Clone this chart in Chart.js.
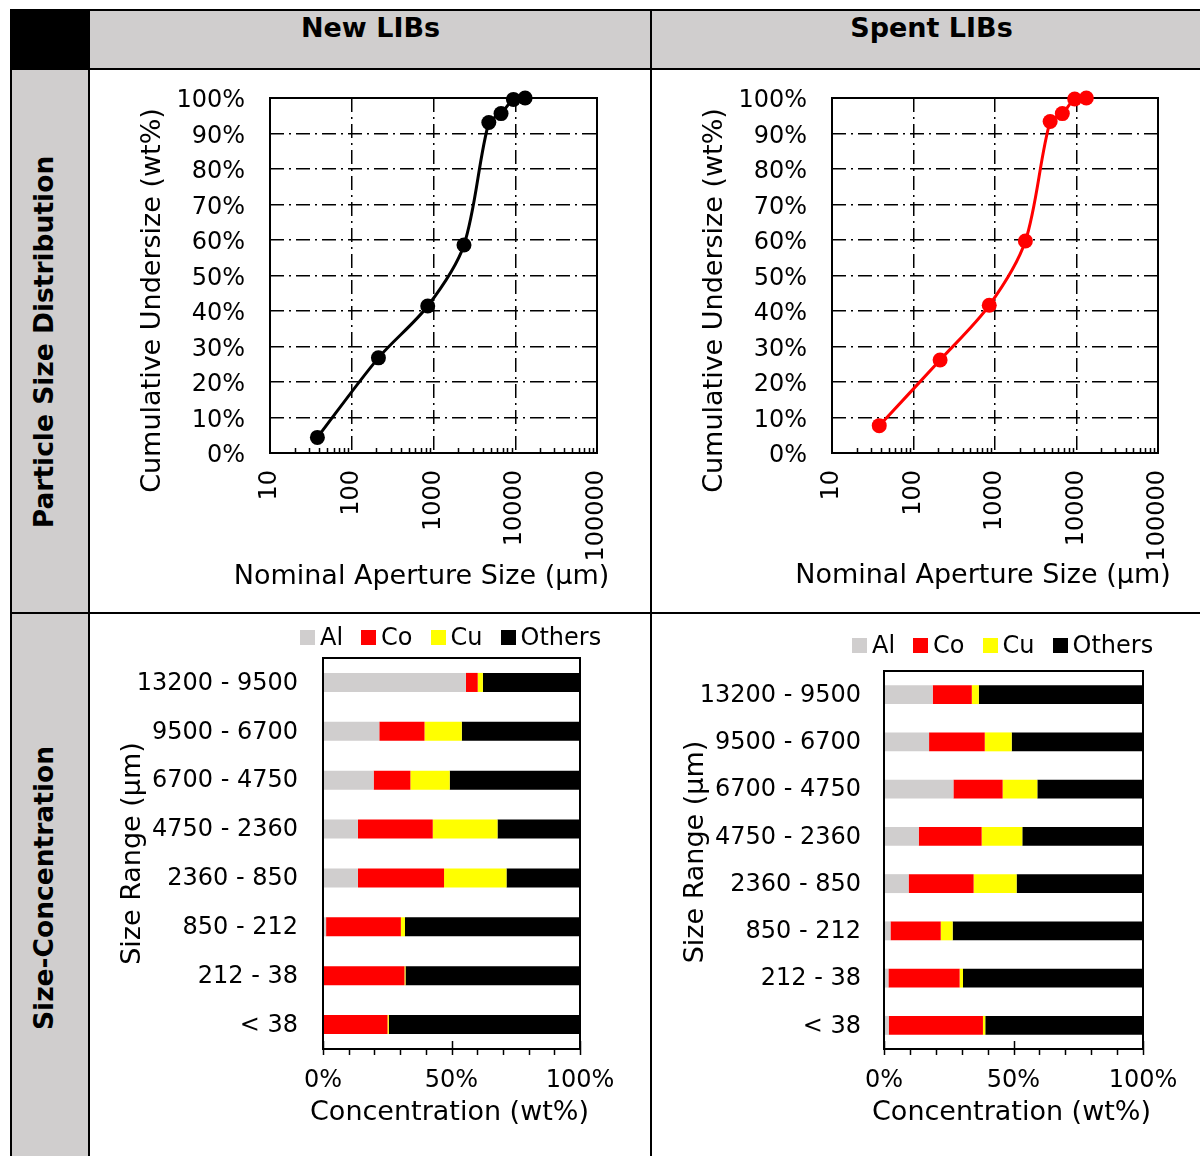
<!DOCTYPE html>
<html>
<head>
<meta charset="utf-8">
<title>Particle size distribution and size-concentration of new and spent LIBs</title>
<script src="https://cdn.jsdelivr.net/npm/chart.js@4.4.1/dist/chart.umd.min.js"></script>
<style>
  html, body { margin: 0; padding: 0; background: #fff; }
  #page { position: relative; width: 1200px; height: 1156px; overflow: hidden;
          font-family: 'DejaVu Sans', Verdana, sans-serif; color: #000; }
  .abs { position: absolute; }
  .gray { background: #d0cece; }
  .ink { background: #000; }
  .head { position: absolute; top: 10px; height: 36px; line-height: 36px;
          font-weight: bold; font-size: 27px; text-align: center; white-space: nowrap; }
  .side { position: absolute; font-weight: bold; font-size: 26.5px; white-space: nowrap;
          transform: translate(-50%, -50%) rotate(-90deg); }
  canvas { position: absolute; }
  .legend { position: absolute; display: flex; align-items: center; font-size: 24px; line-height: 28px; white-space: nowrap; }
  .legend .item { display: flex; align-items: center; margin-right: 18px; }
  .legend .box { display: inline-block; width: 15px; height: 15px; margin-right: 5px; }
</style>
</head>
<body>
<div id="page">
  <!-- table cells -->
  <div class="abs ink"  style="left:10px;top:10px;width:80px;height:60px"></div>
  <div class="abs gray" style="left:90px;top:10px;width:1110px;height:59px"></div>
  <div class="abs gray" style="left:12px;top:70px;width:76px;height:1086px"></div>

  <!-- table rules -->
  <div class="abs ink" style="left:10px;top:9px;width:1190px;height:2px"></div>
  <div class="abs ink" style="left:10px;top:68px;width:1190px;height:2px"></div>
  <div class="abs ink" style="left:10px;top:612px;width:1190px;height:2px"></div>
  <div class="abs ink" style="left:10px;top:10px;width:2px;height:1146px"></div>
  <div class="abs ink" style="left:88px;top:10px;width:2px;height:1146px"></div>
  <div class="abs ink" style="left:650px;top:10px;width:2px;height:1146px"></div>

  <div class="head" style="left:90px;width:561px">New LIBs</div>
  <div class="head" style="left:651px;width:561px">Spent LIBs</div>
  <div class="side" style="left:43px;top:342px">Particle Size Distribution</div>
  <div class="side" style="left:43px;top:888px">Size-Concentration</div>

  <canvas id="psd-new"   width="548" height="538" style="left:100px;top:72px"></canvas>
  <canvas id="psd-spent" width="545" height="538" style="left:655px;top:72px"></canvas>
  <canvas id="conc-new"   width="548" height="540" style="left:100px;top:615px"></canvas>
  <canvas id="conc-spent" width="545" height="540" style="left:655px;top:615px"></canvas>
  <div id="legend-new"   class="legend" style="left:300px;top:623px"></div>
  <div id="legend-spent" class="legend" style="left:852px;top:631px"></div>
</div>

<script>
// ── Data: particle size distribution ────────────────────────
const sieveSizes = [38, 212, 850, 2360, 4750, 6700, 9500, 13200];      // µm
const newUndersize = [4.4, 26.8, 41.4, 58.6, 93.1, 95.6, 99.6, 100];   // wt%
const spentUndersize = [7.7, 26.2, 41.6, 59.7, 93.4, 95.6, 99.7, 100]; // wt%
const apertureTicks = [10, 100, 1000, 10000, 100000];

// ── Data: size-concentration ────────────────────────────────
const sizeRanges = ['13200 - 9500', '9500 - 6700', '6700 - 4750', '4750 - 2360',
                    '2360 - 850', '850 - 212', '212 - 38', '< 38'];
const elements = ['Al', 'Co', 'Cu', 'Others'];
const elementColors = ['#d0cece', '#ff0000', '#ffff00', '#000000'];

const newAl     = [55.6, 21.9, 19.7, 13.6, 13.6, 1.2, 0.3, 0.0];
const newCo     = [4.6, 17.6, 14.3, 29.1, 33.5, 29.1, 31.4, 25.1];
const newCu     = [2.0, 14.5, 15.3, 25.2, 24.3, 1.6, 0.4, 0.5];
const newOthers = [37.8, 46.0, 50.7, 32.1, 28.6, 68.1, 67.9, 74.4];

const spentAl     = [18.8, 17.4, 26.8, 13.4, 9.5, 2.5, 1.7, 1.8];
const spentCo     = [15.1, 21.5, 19.0, 24.3, 25.1, 19.4, 27.5, 36.4];
const spentCu     = [2.7, 10.4, 13.4, 15.7, 16.6, 4.6, 1.3, 0.9];
const spentOthers = [63.4, 50.7, 40.8, 46.6, 48.8, 73.5, 69.5, 60.9];

const concTicks = [0, 50, 100];
const concMinorStep = 10;

const FONT = "'DejaVu Sans', Verdana, sans-serif";
Chart.defaults.font.family = FONT;
Chart.defaults.color = '#000';

// ── Plot frame ──────────────────────────────────────────────
const framePlugin = {
    id: 'frame',
    draw(chart) {
        const { ctx, chartArea: a } = chart;
        ctx.save();
        ctx.strokeStyle = '#000';
        ctx.lineWidth = 2;
        ctx.strokeRect(a.left, a.top, a.right - a.left, a.bottom - a.top);
        ctx.restore();
    },
    beforeDatasetsDraw(chart, args, opts) { if (!opts.after) this.draw(chart); },
    afterDatasetsDraw(chart, args, opts) { if (opts.after) this.draw(chart); }
};

// ── Tick marks on the x axis (inside / outside) ─────────────
const tickMarks = {
    id: 'tickMarks',
    afterDatasetsDraw(chart, args, opts) {
        const sx = chart.scales.x;
        const bottom = chart.chartArea.bottom;
        const ctx = chart.ctx;
        ctx.save();
        ctx.strokeStyle = '#000';
        ctx.lineWidth = 1.5;
        ctx.beginPath();
        sx.ticks.forEach(t => {
            const px = Math.round(sx.getPixelForValue(t.value)) + 0.5;
            const up = t.major ? opts.majorIn : opts.minorIn;
            if (up) { ctx.moveTo(px, bottom); ctx.lineTo(px, bottom - up); }
            if (opts.out) { ctx.moveTo(px, bottom); ctx.lineTo(px, bottom + opts.out); }
        });
        ctx.stroke();
        ctx.restore();
    }
};

// ── Axis titles (placed like the Excel originals, not squeezed) ──
const axisTitles = {
    id: 'axisTitles',
    afterDraw(chart, args, opts) {
        const { ctx, chartArea: a } = chart;
        ctx.save();
        ctx.fillStyle = '#000';
        ctx.font = opts.size + 'px ' + FONT;
        ctx.textAlign = 'center';
        ctx.textBaseline = 'middle';
        ctx.fillText(opts.xText, (a.left + a.right) / 2 + opts.xdx, a.bottom + opts.xdy);
        ctx.translate(a.left + opts.ydx, (a.top + a.bottom) / 2 + opts.ydy);
        ctx.rotate(-Math.PI / 2);
        ctx.fillText(opts.yText, 0, 0);
        ctx.restore();
    }
};

// ── HTML legend ─────────────────────────────────────────────
const htmlLegend = {
    id: 'htmlLegend',
    afterUpdate(chart, args, opts) {
        const box = document.getElementById(opts.containerID);
        if (!box) return;
        box.innerHTML = '';
        chart.options.plugins.legend.labels.generateLabels(chart).forEach(item => {
            const el = document.createElement('span');
            el.className = 'item';
            const sw = document.createElement('span');
            sw.className = 'box';
            sw.style.background = item.fillStyle;
            el.appendChild(sw);
            el.appendChild(document.createTextNode(item.text));
            box.appendChild(el);
        });
    }
};

const dashDot = [14, 5, 2, 5];

function psdChart(id, values, color, geo) {
    return new Chart(document.getElementById(id), {
        type: 'line',
        data: {
            datasets: [{
                data: sieveSizes.map((s, i) => ({ x: s, y: values[i] })),
                borderColor: color,
                backgroundColor: color,
                borderWidth: 3,
                pointRadius: 7.5,
                pointHoverRadius: 7.5,
                pointBorderWidth: 0,
                tension: 0.3,
                clip: false
            }]
        },
        options: {
            responsive: false,
            animation: false,
            events: [],
            layout: { padding: { top: geo.padTop, right: geo.padRight } },
            plugins: {
                legend: { display: false },
                tooltip: { enabled: false },
                frame: { after: false },
                tickMarks: { minorIn: 5, majorIn: 0, out: 0 },
                axisTitles: {
                    size: 27,
                    xText: 'Nominal Aperture Size (µm)', xdx: -12, xdy: geo.xTitleY,
                    yText: 'Cumulative Undersize (wt%)', ydx: -117, ydy: 25
                }
            },
            scales: {
                x: {
                    type: 'logarithmic',
                    min: apertureTicks[0],
                    max: apertureTicks[apertureTicks.length - 1],
                    afterBuildTicks: s => {
                        const ticks = [];
                        apertureTicks.forEach((d, k) => {
                            ticks.push({ value: d, major: true });
                            if (k < apertureTicks.length - 1) {
                                for (let m = 2; m <= 9; m++) ticks.push({ value: d * m, major: false });
                            }
                        });
                        s.ticks = ticks;
                    },
                    afterFit: s => { s.height = geo.xHeight; s.paddingLeft = 0; s.paddingRight = 0; },
                    grid: {
                        color: c => (c.tick && c.tick.major) ? '#000' : 'rgba(0,0,0,0)',
                        lineWidth: 1.5,
                        drawTicks: false
                    },
                    border: { display: false, dash: dashDot },
                    ticks: {
                        autoSkip: false,
                        minRotation: 90,
                        maxRotation: 90,
                        padding: 17,
                        font: { size: 24 },
                        callback: (v, i, t) => t[i].major ? String(v) : ''
                    }
                },
                y: {
                    min: 0,
                    max: 100,
                    afterFit: s => { s.width = geo.yWidth; s.paddingTop = 0; s.paddingBottom = 0; },
                    grid: { color: '#000', lineWidth: 1.5, drawTicks: false },
                    border: { display: false, dash: dashDot },
                    ticks: { stepSize: 10, padding: 25, labelOffset: 3, font: { size: 24 }, callback: v => v + '%' }
                }
            }
        },
        plugins: [framePlugin, tickMarks, axisTitles]
    });
}

function concChart(id, series, geo, legendId) {
    return new Chart(document.getElementById(id), {
        type: 'bar',
        data: {
            labels: sizeRanges,
            datasets: elements.map((name, k) => ({
                label: name,
                data: series[k],
                backgroundColor: elementColors[k],
                borderWidth: 0,
                barPercentage: geo.barPct,
                categoryPercentage: 1
            }))
        },
        options: {
            indexAxis: 'y',
            responsive: false,
            animation: false,
            events: [],
            layout: { padding: { top: geo.padTop, right: geo.padRight } },
            plugins: {
                legend: { display: false },
                tooltip: { enabled: false },
                htmlLegend: { containerID: legendId },
                frame: { after: true },
                tickMarks: { minorIn: 0, majorIn: 8, out: 6 },
                axisTitles: {
                    size: 27,
                    xText: 'Concentration (wt%)', xdx: -2, xdy: 64,
                    yText: 'Size Range (µm)', ydx: geo.yTitleX, ydy: geo.yTitleDy
                }
            },
            scales: {
                x: {
                    stacked: true,
                    min: 0,
                    max: 100,
                    afterBuildTicks: s => {
                        const ticks = [];
                        for (let v = concTicks[0]; v <= concTicks[concTicks.length - 1]; v += concMinorStep) {
                            ticks.push({ value: v, major: concTicks.includes(v) });
                        }
                        s.ticks = ticks;
                    },
                    afterFit: s => { s.height = geo.xHeight; s.paddingLeft = 0; s.paddingRight = 0; },
                    grid: { display: false, drawTicks: false },
                    border: { display: false },
                    ticks: {
                        autoSkip: false,
                        maxRotation: 0,
                        padding: 17,
                        font: { size: 24 },
                        callback: (v, i, t) => t[i].major ? v + '%' : ''
                    }
                },
                y: {
                    stacked: true,
                    afterFit: s => { s.width = geo.yWidth; s.paddingTop = 0; s.paddingBottom = 0; },
                    grid: { display: false, drawTicks: false },
                    border: { display: false },
                    ticks: { padding: geo.yTickPad, labelOffset: 1, font: { size: 24 } }
                }
            }
        },
        plugins: [framePlugin, tickMarks, axisTitles, htmlLegend]
    });
}

// ── Init ─────────────────────────────────────────────────────
psdChart('psd-new', newUndersize, '#000000',
    { padTop: 26, padRight: 51, yWidth: 170, xHeight: 157, xTitleY: 124 });
psdChart('psd-spent', spentUndersize, '#ff0000',
    { padTop: 26, padRight: 42, yWidth: 177, xHeight: 157, xTitleY: 123 });

concChart('conc-new', [newAl, newCo, newCu, newOthers],
    { padTop: 43, padRight: 68, yWidth: 223, xHeight: 106, yTickPad: 25, yTitleX: -190, yTitleDy: 0, barPct: 0.39 },
    'legend-new');
concChart('conc-spent', [spentAl, spentCo, spentCu, spentOthers],
    { padTop: 56, padRight: 57, yWidth: 229, xHeight: 106, yTickPad: 23, yTitleX: -188, yTitleDy: -8, barPct: 0.40 },
    'legend-spent');
</script>
</body>
</html>
